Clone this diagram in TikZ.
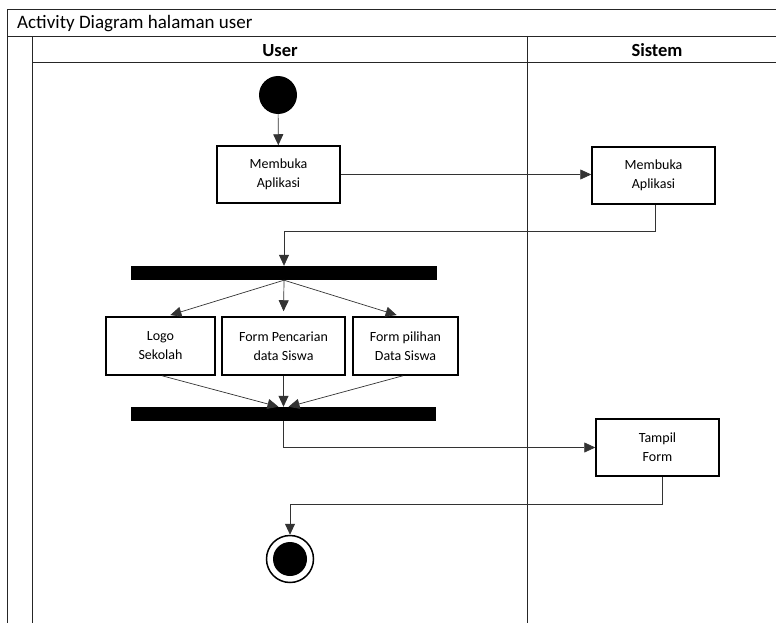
\documentclass[tikz,border=0pt]{standalone}
\usepackage{fontspec}
\setmainfont{Carlito}
\usetikzlibrary{arrows.meta}
\begin{document}
\begin{tikzpicture}[x=1pt,y=-1pt,
  act/.style={draw, line width=1.5pt, minimum height=57pt, align=center,
    font=\fontsize{14}{19}\selectfont, inner sep=0pt},
  bar/.style={fill=black, inner sep=0pt, minimum height=14pt},
  flow/.style={line width=0.7pt, draw=black!80, -{Triangle[length=11pt,width=10pt]}},
  lane/.style={line width=0.8pt, draw=black!85},
  head/.style={anchor=base, inner sep=0pt, font=\fontsize{18.5}{20}\selectfont\bfseries}]
\useasboundingbox (0,0) rectangle (776,623);
% frame and swimlanes
\draw[lane] (7,623) -- (7,9) -- (776,9);
\draw[lane] (7,36) -- (776,36);
\draw[lane] (32,623) -- (32,36);
\draw[lane] (32,62) -- (776,62);
\draw[lane] (527,36) -- (527,623);
\node[anchor=base west, font=\fontsize{19}{22}\selectfont, inner sep=0pt] (title) at (17,29) {Activity Diagram halaman user};
\node[head] (hu) at (280,57) {User};
\node[head] (hs) at (657,57) {Sistem};
% nodes
\node[circle, fill=black, minimum size=38pt, inner sep=0pt] (start) at (278,95) {};
\node[act, minimum width=123pt] (a1) at (278.5,174.5) {Membuka\\Aplikasi};
\node[act, minimum width=123pt] (s1) at (653.5,175.5) {Membuka\\Aplikasi};
\node[bar, minimum width=306pt] (fork) at (284,273) {};
\node[act, minimum width=109pt, minimum height=58pt] (logo) at (160.5,346) {Logo\\Sekolah};
\node[act, minimum width=123pt, minimum height=58pt] (cari) at (283.5,346) {Form Pencarian\\data Siswa};
\node[act, minimum width=105pt, minimum height=58pt] (pilih) at (405.5,346) {Form pilihan\\Data Siswa};
\node[bar, minimum width=305pt] (joinbar) at (283.5,414) {};
\node[act, minimum width=123pt] (tampil) at (657.5,447.5) {Tampil\\Form};
\node[circle, draw=black, line width=1.5pt, minimum size=47pt, inner sep=0pt] (end) at (290,559) {};
\node[circle, fill=black, minimum size=34pt, inner sep=0pt] (endin) at (290,559) {};
% connectors
\draw[flow] (start) -- (a1);
\draw[flow] (a1.east) -- (a1.east -| s1.west);
\draw[flow] ([xshift=1.5pt]s1.south) -- ++(0,27) -| (fork.north);
\draw[flow, shorten >=4pt] (fork.south) -- ([xshift=6pt]logo.north);
\draw[flow, shorten >=5pt] (fork.south) -- (cari.north);
\draw[flow, shorten >=4pt] (fork.south) -- ([xshift=-5pt]pilih.north);
\draw[flow] ([xshift=1.5pt]logo.south) -- ([xshift=-5pt]joinbar.north);
\draw[flow] (cari.south) -- (joinbar.north);
\draw[flow] ([xshift=-2.5pt]pilih.south) -- ([xshift=5pt]joinbar.north);
\draw[flow] (joinbar.south) |- (tampil.west);
\draw[flow] ([xshift=4.5pt]tampil.south) -- ++(0,28) -| (end.north);
\end{tikzpicture}
\end{document}
